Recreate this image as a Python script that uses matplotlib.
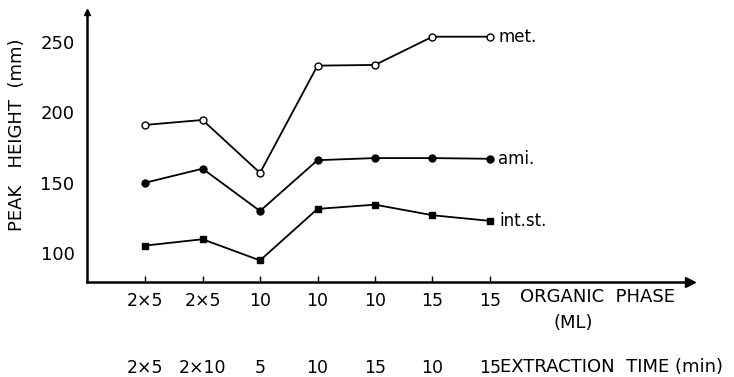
import matplotlib
matplotlib.use('Agg')
import matplotlib.pyplot as plt
import matplotlib.transforms as mtransforms

# conditions: organic phase volume (ML) and extraction time (min)
organic_phase = ['2×5', '2×5', '10', '10', '10', '15', '15']
extraction_time = ['2×5', '2×10', '5', '10', '15', '10', '15']

# peak heights (mm)
met = [191, 194.5, 157, 233, 233.5, 253.5, 253.5]
ami = [150, 160, 130, 166, 167.5, 167.5, 167]
int_st = [105.5, 110, 95, 131.5, 134.5, 127, 123]

yticks = [100, 150, 200, 250]

W, H = 734, 377
fig = plt.figure(figsize=(W / 100, H / 100), dpi=100)
ax = fig.add_axes([87 / W, (H - 282) / H, (690 - 87) / W, (282 - 12) / H])

plt.rcParams['font.family'] = 'DejaVu Sans'

x = list(range(len(met)))
lw = 1.3
ax.plot(x, met, '-o', color='k', lw=lw, ms=5, mfc='white', mec='k', mew=1.0)
ax.plot(x, ami, '-o', color='k', lw=lw, ms=5, mfc='k', mec='k')
ax.plot(x, int_st, '-s', color='k', lw=lw, ms=5, mfc='k', mec='k')

ax.set_xlim(-1.01, 9.48)
ax.set_ylim(79.7, 271)

for sp in ['top', 'right']:
    ax.spines[sp].set_visible(False)
for sp in ['left', 'bottom']:
    ax.spines[sp].set_linewidth(1.8)

# arrow heads on the axes
ax.plot(1, 0, '>k', ms=7, transform=ax.transAxes, clip_on=False)
ax.plot(0, 1, '^k', ms=5, transform=ax.transAxes, clip_on=False)

ax.set_yticks(yticks)
ax.set_yticklabels([str(v) for v in yticks], fontsize=13)
ax.tick_params(axis='y', length=0, pad=9)

ax.set_xticks(x)
ax.set_xticklabels(organic_phase, fontsize=12.5)
ax.tick_params(axis='x', direction='in', length=4, width=1, pad=7)

trans = mtransforms.blended_transform_factory(ax.transData, fig.transFigure)
for xi, lab in zip(x, extraction_time):
    ax.text(xi, 1 - 368 / H, lab, transform=trans, ha='center', va='center',
            fontsize=12.5)

# series labels
ax.text(x[-1] + 0.14, met[-1], 'met.', ha='left', va='center', fontsize=12)
ax.text(x[-1] + 0.14, ami[-1], 'ami.', ha='left', va='center', fontsize=12)
ax.text(x[-1] + 0.17, int_st[-1], 'int.st.', ha='left', va='center', fontsize=12)

fig.text(520 / W, 1 - 297 / H, 'ORGANIC  PHASE', ha='left', va='center', fontsize=13)
fig.text(573 / W, 1 - 323 / H, '(ML)', ha='center', va='center', fontsize=13)
fig.text(500 / W, 1 - 367 / H, 'EXTRACTION  TIME (min)', ha='left', va='center',
         fontsize=13)
fig.text(17 / W, 1 - 135 / H, 'PEAK   HEIGHT  (mm)', rotation=90, ha='center',
         va='center', fontsize=13)

fig.savefig('out.png', dpi=100)
